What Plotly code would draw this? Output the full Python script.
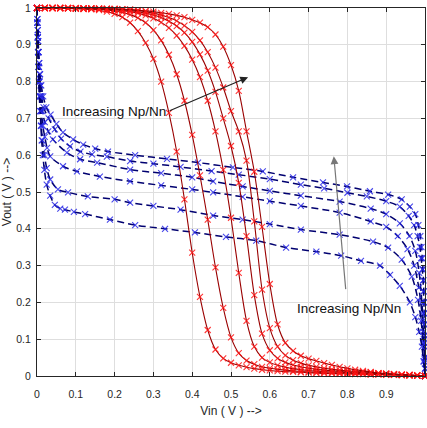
import plotly.graph_objects as go

# ---------------- data ----------------
vin_grid = [0.00, 0.02, 0.04, 0.06, 0.08, 0.10, 0.12, 0.14, 0.16, 0.18,
            0.20, 0.22, 0.24, 0.26, 0.28, 0.30, 0.32, 0.34, 0.36, 0.38,
            0.40, 0.42, 0.44, 0.46, 0.48, 0.50, 0.52, 0.54, 0.56, 0.58,
            0.60, 0.62, 0.64, 0.66, 0.68, 0.70, 0.72, 0.74, 0.76, 0.78,
            0.80, 0.82, 0.84, 0.86, 0.88, 0.90, 0.92, 0.94, 0.96, 0.98, 1.00]

red_1 = [1.000, 1.000, 1.000, 0.999, 0.999, 0.998, 0.997, 0.996, 0.994, 0.990,
         0.984, 0.975, 0.960, 0.937, 0.905, 0.862, 0.800, 0.715, 0.610, 0.480,
         0.335, 0.215, 0.125, 0.072, 0.048, 0.036, 0.029, 0.024, 0.020, 0.017,
         0.015, 0.013, 0.012, 0.011, 0.010, 0.009, 0.008, 0.007, 0.007, 0.006,
         0.006, 0.005, 0.005, 0.004, 0.004, 0.003, 0.003, 0.002, 0.002, 0.001, 0.000]
red_2 = [1.000, 1.000, 1.000, 1.000, 0.999, 0.999, 0.998, 0.998, 0.997, 0.995,
         0.992, 0.988, 0.982, 0.973, 0.960, 0.940, 0.912, 0.873, 0.820, 0.748,
         0.655, 0.545, 0.425, 0.295, 0.185, 0.105, 0.062, 0.042, 0.032, 0.025,
         0.021, 0.018, 0.016, 0.014, 0.012, 0.011, 0.010, 0.009, 0.008, 0.008,
         0.007, 0.006, 0.006, 0.005, 0.005, 0.004, 0.003, 0.003, 0.002, 0.001, 0.000]
red_3 = [1.000, 1.000, 1.000, 1.000, 0.999, 0.999, 0.999, 0.998, 0.997, 0.996,
         0.995, 0.993, 0.990, 0.986, 0.980, 0.972, 0.961, 0.946, 0.925, 0.897,
         0.860, 0.812, 0.748, 0.665, 0.560, 0.430, 0.280, 0.150, 0.080, 0.050,
         0.037, 0.029, 0.024, 0.020, 0.017, 0.015, 0.013, 0.012, 0.011, 0.010,
         0.009, 0.008, 0.007, 0.006, 0.006, 0.005, 0.004, 0.003, 0.002, 0.001, 0.000]
red_4 = [1.000, 1.000, 1.000, 1.000, 1.000, 0.999, 0.999, 0.999, 0.998, 0.997,
         0.996, 0.995, 0.993, 0.990, 0.986, 0.981, 0.974, 0.964, 0.951, 0.933,
         0.908, 0.874, 0.830, 0.772, 0.700, 0.625, 0.525, 0.380, 0.220, 0.115,
         0.070, 0.048, 0.037, 0.030, 0.025, 0.021, 0.018, 0.016, 0.014, 0.012,
         0.011, 0.010, 0.009, 0.008, 0.007, 0.006, 0.005, 0.004, 0.003, 0.001, 0.000]
red_5 = [1.000, 1.000, 1.000, 1.000, 1.000, 0.999, 0.999, 0.999, 0.998, 0.998,
         0.997, 0.996, 0.995, 0.993, 0.990, 0.986, 0.981, 0.974, 0.965, 0.952,
         0.935, 0.912, 0.880, 0.838, 0.784, 0.720, 0.665, 0.585, 0.420, 0.235,
         0.130, 0.080, 0.056, 0.043, 0.035, 0.029, 0.025, 0.021, 0.018, 0.016,
         0.014, 0.012, 0.011, 0.010, 0.008, 0.007, 0.005, 0.004, 0.003, 0.002, 0.000]
red_6 = [1.000, 1.000, 1.000, 1.000, 1.000, 1.000, 0.999, 0.999, 0.999, 0.998,
         0.998, 0.997, 0.996, 0.994, 0.992, 0.990, 0.987, 0.984, 0.980, 0.975,
         0.968, 0.960, 0.948, 0.928, 0.895, 0.845, 0.775, 0.665, 0.555, 0.405,
         0.250, 0.140, 0.090, 0.068, 0.055, 0.047, 0.041, 0.035, 0.030, 0.025,
         0.021, 0.017, 0.014, 0.011, 0.008, 0.006, 0.005, 0.003, 0.002, 0.001, 0.000]
red_curves = [red_1, red_2, red_3, red_4, red_5, red_6]

# blue dashed curves (Vin, Vout) pairs, top to bottom
blue_1_x = [0.000, 0.001, 0.002, 0.003, 0.004, 0.006, 0.008, 0.011, 0.016, 0.024, 0.035, 0.050,
            0.067, 0.093, 0.119, 0.150, 0.183, 0.253, 0.335, 0.415, 0.505, 0.582, 0.660, 0.737,
            0.799, 0.858, 0.905, 0.940, 0.961, 0.975, 0.983, 0.988, 0.991, 0.993, 0.995, 0.996,
            0.997, 0.998, 0.998, 0.999, 0.999, 0.999, 1.000, 1.000, 1.000]
blue_1_y = [1.000, 0.970, 0.940, 0.910, 0.880, 0.850, 0.820, 0.790, 0.760, 0.730, 0.710, 0.685,
            0.662, 0.643, 0.629, 0.618, 0.610, 0.600, 0.590, 0.580, 0.567, 0.556, 0.540, 0.526,
            0.515, 0.502, 0.493, 0.480, 0.460, 0.440, 0.410, 0.380, 0.350, 0.320, 0.290, 0.260,
            0.230, 0.200, 0.170, 0.140, 0.110, 0.080, 0.050, 0.020, 0.000]
blue_2_x = [0.000, 0.001, 0.002, 0.003, 0.004, 0.005, 0.007, 0.009, 0.012, 0.017, 0.030, 0.046,
            0.062, 0.085, 0.112, 0.142, 0.180, 0.240, 0.300, 0.370, 0.450, 0.520, 0.600, 0.680,
            0.740, 0.800, 0.850, 0.900, 0.935, 0.958, 0.972, 0.981, 0.987, 0.990, 0.993, 0.995,
            0.996, 0.997, 0.998, 0.998, 0.999, 0.999, 1.000, 1.000, 1.000]
blue_2_y = [1.000, 0.970, 0.940, 0.910, 0.880, 0.850, 0.820, 0.790, 0.760, 0.730, 0.700, 0.670,
            0.645, 0.624, 0.610, 0.602, 0.596, 0.584, 0.577, 0.568, 0.557, 0.547, 0.535, 0.520,
            0.510, 0.498, 0.488, 0.475, 0.460, 0.435, 0.410, 0.380, 0.350, 0.320, 0.290, 0.260,
            0.230, 0.200, 0.170, 0.140, 0.110, 0.080, 0.050, 0.020, 0.000]
blue_3_x = [0.000, 0.001, 0.002, 0.003, 0.005, 0.007, 0.010, 0.014, 0.020, 0.029, 0.041, 0.077,
            0.111, 0.155, 0.240, 0.320, 0.400, 0.454, 0.530, 0.600, 0.680, 0.780, 0.860, 0.900,
            0.935, 0.960, 0.975, 0.985, 0.992, 0.995, 0.997, 0.999, 1.000]
blue_3_y = [1.000, 0.960, 0.920, 0.880, 0.840, 0.800, 0.760, 0.720, 0.690, 0.665, 0.643, 0.607,
            0.589, 0.580, 0.561, 0.551, 0.540, 0.529, 0.515, 0.503, 0.490, 0.474, 0.455, 0.440,
            0.415, 0.380, 0.340, 0.280, 0.200, 0.150, 0.100, 0.050, 0.000]
blue_4_x = [0.000, 0.001, 0.002, 0.003, 0.004, 0.006, 0.008, 0.011, 0.015, 0.020, 0.026, 0.034,
            0.067, 0.103, 0.162, 0.240, 0.320, 0.400, 0.454, 0.530, 0.600, 0.680, 0.780, 0.860,
            0.900, 0.930, 0.955, 0.972, 0.984, 0.992, 0.995, 0.997, 0.999, 1.000]
blue_4_y = [1.000, 0.960, 0.920, 0.880, 0.840, 0.800, 0.760, 0.720, 0.680, 0.650, 0.620, 0.597,
            0.570, 0.556, 0.542, 0.529, 0.518, 0.507, 0.499, 0.487, 0.475, 0.462, 0.444, 0.420,
            0.405, 0.380, 0.345, 0.300, 0.240, 0.170, 0.120, 0.090, 0.045, 0.000]
blue_5_x = [0.000, 0.001, 0.002, 0.003, 0.004, 0.005, 0.007, 0.009, 0.011, 0.014, 0.019, 0.025,
            0.034, 0.054, 0.080, 0.131, 0.200, 0.240, 0.300, 0.370, 0.454, 0.530, 0.600, 0.680,
            0.780, 0.866, 0.905, 0.940, 0.966, 0.982, 0.990, 0.995, 0.998, 1.000]
blue_5_y = [1.000, 0.960, 0.920, 0.880, 0.840, 0.800, 0.760, 0.720, 0.680, 0.640, 0.600, 0.565,
            0.534, 0.507, 0.499, 0.488, 0.480, 0.471, 0.462, 0.452, 0.436, 0.425, 0.413, 0.398,
            0.384, 0.365, 0.349, 0.316, 0.270, 0.207, 0.150, 0.090, 0.040, 0.000]
blue_6_x = [0.000, 0.001, 0.002, 0.003, 0.004, 0.005, 0.006, 0.008, 0.010, 0.012, 0.015, 0.019,
            0.025, 0.034, 0.046, 0.060, 0.072, 0.095, 0.124, 0.188, 0.253, 0.330, 0.407, 0.487,
            0.565, 0.642, 0.720, 0.784, 0.835, 0.884, 0.910, 0.935, 0.961, 0.975, 0.985, 0.992,
            0.996, 1.000]
blue_6_y = [1.000, 0.960, 0.920, 0.880, 0.840, 0.800, 0.760, 0.720, 0.680, 0.640, 0.600, 0.560,
            0.520, 0.490, 0.465, 0.455, 0.452, 0.446, 0.440, 0.425, 0.410, 0.400, 0.390, 0.378,
            0.368, 0.349, 0.338, 0.327, 0.313, 0.300, 0.275, 0.245, 0.200, 0.160, 0.120, 0.080,
            0.040, 0.000]
blue_curves = [(blue_1_x, blue_1_y), (blue_2_x, blue_2_y), (blue_3_x, blue_3_y),
               (blue_4_x, blue_4_y), (blue_5_x, blue_5_y), (blue_6_x, blue_6_y)]

tick_vals = [0, 0.1, 0.2, 0.3, 0.4, 0.5, 0.6, 0.7, 0.8, 0.9, 1]
tick_text = ["0", "0.1", "0.2", "0.3", "0.4", "0.5", "0.6", "0.7", "0.8", "0.9", "1"]
label_text = "Increasing Np/Nn"
x_title = "Vin ( V ) -->"
y_title = "Vout ( V ) -->"

# ---------------- figure ----------------
FONT = "Liberation Sans, Arial, sans-serif"
fig = go.Figure()

for bx, by in blue_curves:
    fig.add_trace(go.Scatter(
        x=bx, y=by, mode="lines+markers", cliponaxis=False,
        line=dict(color="#000070", width=1.5, dash="7px,4px", shape="spline", smoothing=0.8),
        marker=dict(symbol="x-thin", size=6, line=dict(color="rgba(40,40,230,0.85)", width=1.1)),
        hoverinfo="skip"))

for ry in red_curves:
    fig.add_trace(go.Scatter(
        x=vin_grid, y=ry, mode="lines+markers", cliponaxis=False,
        line=dict(color="#9a0000", width=1.1, shape="spline", smoothing=0.8),
        marker=dict(symbol="x-thin", size=6, line=dict(color="rgba(255,20,20,0.85)", width=1.1)),
        hoverinfo="skip"))

# annotations
fig.add_annotation(x=0.338, y=0.719, xref="x", yref="y", text=label_text, showarrow=False,
                   xanchor="right", yanchor="middle",
                   font=dict(family=FONT, size=13.5, color="#111111"))
fig.add_annotation(x=0.544, y=0.812, ax=0.338, ay=0.719, xref="x", yref="y",
                   axref="x", ayref="y", text="", showarrow=True,
                   arrowhead=2, arrowsize=1.3, arrowwidth=1.2, arrowcolor="#222222")
fig.add_annotation(x=0.804, y=0.184, xref="x", yref="y", text=label_text, showarrow=False,
                   xanchor="center", yanchor="middle",
                   font=dict(family=FONT, size=13.5, color="#111111"))
fig.add_annotation(x=0.765, y=0.597, ax=0.796, ay=0.232, xref="x", yref="y",
                   axref="x", ayref="y", text="", showarrow=True,
                   arrowhead=2, arrowsize=1.3, arrowwidth=1.2, arrowcolor="#777777")

axis_common = dict(
    range=[0, 1], tickvals=tick_vals, ticktext=tick_text,
    showgrid=True, gridcolor="#dedede", gridwidth=1,
    ticks="inside", ticklen=4, tickcolor="#262626",
    showline=True, linecolor="#262626", linewidth=1, mirror="ticks",
    zeroline=False, tickfont=dict(family=FONT, size=10.5, color="#262626"),
)
fig.update_xaxes(**axis_common, ticklabelstandoff=8,
                 title=dict(text=x_title, standoff=8,
                            font=dict(family=FONT, size=12, color="#262626")))
fig.update_yaxes(**axis_common, ticklabelstandoff=3,
                 title=dict(text=y_title, standoff=6,
                            font=dict(family=FONT, size=12, color="#262626")))

fig.update_layout(
    width=427, height=428,
    margin=dict(l=37, r=2, t=8, b=52),
    plot_bgcolor="white", paper_bgcolor="white",
    showlegend=False,
)

fig.write_html("out.html")
